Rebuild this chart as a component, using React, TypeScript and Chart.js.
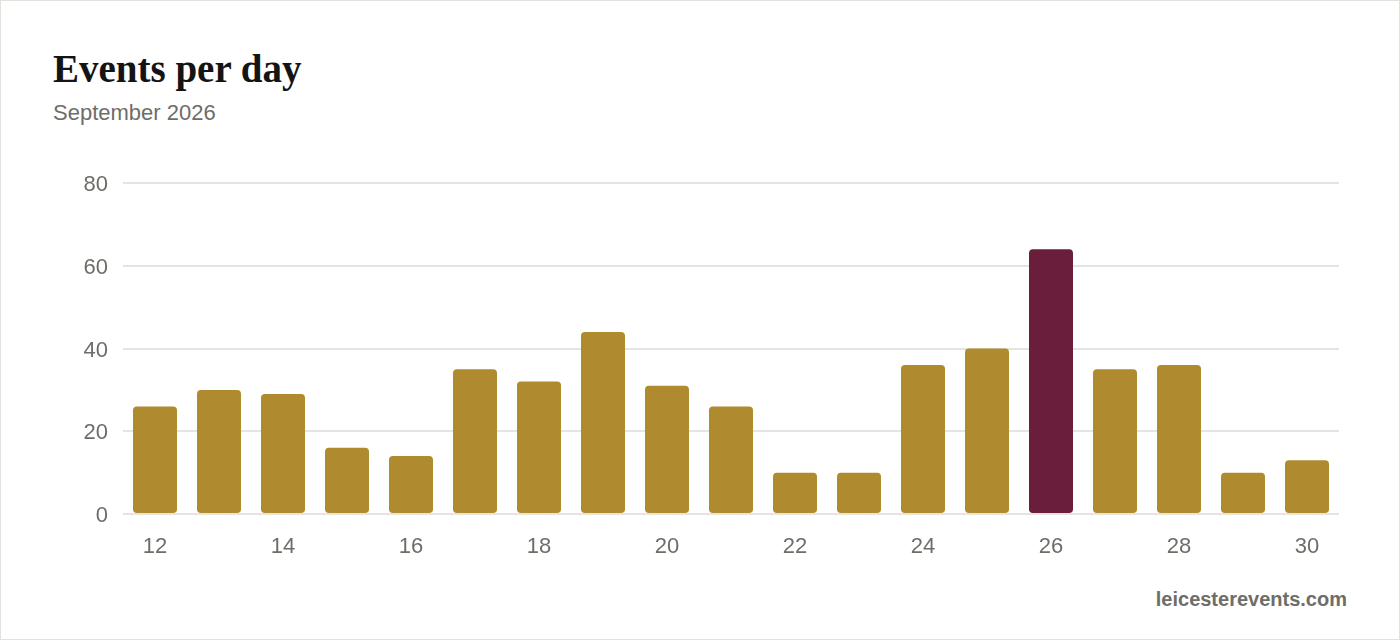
import Chart from "chart.js/auto";
import { useEffect, useRef } from "react";

const days = ["12", "13", "14", "15", "16", "17", "18", "19", "20", "21", "22", "23", "24", "25", "26", "27", "28", "29", "30"];
const events = [26, 30, 29, 16, 14, 35, 32, 44, 31, 26, 10, 10, 36, 40, 64, 35, 36, 10, 13];
const highlightDay = "26";
const yTicks = [0, 20, 40, 60, 80];

const GOLD = "#af8a2f";
const MAROON = "#6a1e3c";
const GREY_TEXT = "#6e6d68";
const GRID = "#e6e4df";

function EventsChart() {
  const canvasRef = useRef<HTMLCanvasElement | null>(null);

  useEffect(() => {
    const canvas = canvasRef.current;
    if (!canvas) return;

    const chart = new Chart(canvas, {
      type: "bar",
      data: {
        labels: days,
        datasets: [
          {
            label: "Events",
            data: events,
            backgroundColor: days.map((d) => (d === highlightDay ? MAROON : GOLD)),
            borderRadius: 4,
            borderSkipped: false,
            barPercentage: 0.6875,
            categoryPercentage: 1,
          },
        ],
      },
      options: {
        animation: false,
        responsive: true,
        maintainAspectRatio: false,
        layout: { padding: { left: 53, right: 61, top: 33, bottom: 0 } },
        plugins: {
          legend: { display: false },
          tooltip: { enabled: false },
        },
        scales: {
          x: {
            grid: { display: false },
            border: { display: false },
            ticks: {
              autoSkip: false,
              maxRotation: 0,
              padding: 12,
              color: GREY_TEXT,
              font: { family: "'Liberation Sans', Arial, sans-serif", size: 22 },
              callback: (_v, i) => (i % 2 === 0 ? days[i] : ""),
            },
            afterFit: (scale) => {
              scale.height = 57;
            },
          },
          y: {
            min: yTicks[0],
            max: yTicks[yTicks.length - 1],
            afterBuildTicks: (scale) => {
              scale.ticks = yTicks.map((v) => ({ value: v }));
            },
            grid: { color: GRID, lineWidth: 2, drawTicks: false },
            border: { display: false },
            ticks: {
              padding: 15,
              labelOffset: 2,
              color: GREY_TEXT,
              font: { family: "'Liberation Sans', Arial, sans-serif", size: 22 },
            },
            afterFit: (scale) => {
              scale.width = 70;
            },
          },
        },
      },
    });

    return () => {
      chart.destroy();
    };
  }, []);

  return <canvas ref={canvasRef} />;
}

export default function App() {
  useEffect(() => {
    document.body.style.margin = "0";
  }, []);

  return (
    <div
      style={{
        position: "relative",
        width: 1400,
        height: 640,
        boxSizing: "border-box",
        border: "1px solid #e3e3dd",
        background: "#fff",
        overflow: "hidden",
      }}
    >
      <div
        style={{
          position: "absolute",
          left: 52,
          top: 48.3,
          fontFamily: "'Liberation Serif', 'Times New Roman', serif",
          fontWeight: 700,
          fontSize: 39,
          lineHeight: 1,
          color: "#141414",
          whiteSpace: "nowrap",
        }}
      >
        Events per day
      </div>
      <div
        style={{
          position: "absolute",
          left: 52,
          top: 100.5,
          fontFamily: "'Liberation Sans', Arial, sans-serif",
          fontSize: 22,
          lineHeight: 1,
          color: GREY_TEXT,
          whiteSpace: "nowrap",
        }}
      >
        September 2026
      </div>
      <div style={{ position: "absolute", left: -1, top: 149, width: 1400, height: 421 }}>
        <EventsChart />
      </div>
      <div
        style={{
          position: "absolute",
          right: 52,
          top: 588,
          fontFamily: "'Liberation Sans', Arial, sans-serif",
          fontWeight: 700,
          fontSize: 20,
          lineHeight: 1,
          color: GREY_TEXT,
          whiteSpace: "nowrap",
        }}
      >
        leicesterevents.com
      </div>
    </div>
  );
}
